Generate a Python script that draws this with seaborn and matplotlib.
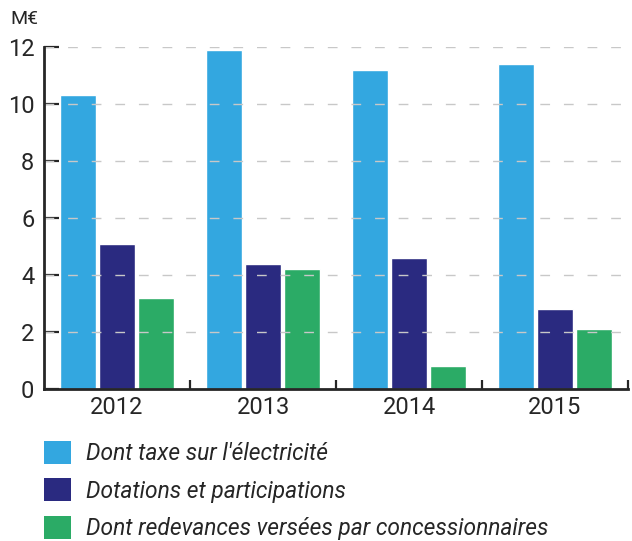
import numpy as np
import pandas as pd
import matplotlib
matplotlib.use("Agg")
import matplotlib.pyplot as plt
import seaborn as sns
from matplotlib.patches import Patch

# Data
years = ["2012", "2013", "2014", "2015"]
series = ["Dont taxe sur l'électricité",
          "Dotations et participations",
          "Dont redevances versées par concessionnaires"]
taxe = [10.3, 11.9, 11.2, 11.4]
dotations = [5.1, 4.4, 4.6, 2.8]
redevances = [3.2, 4.2, 0.8, 2.1]
colors = ["#33a7e0", "#2a2a80", "#2bab66"]

df = pd.DataFrame({
    "year": years * 3,
    "serie": [series[0]] * 4 + [series[1]] * 4 + [series[2]] * 4,
    "value": taxe + dotations + redevances,
})

sns.set_style("white")
plt.rcParams["font.family"] = ["Roboto", "DejaVu Sans"]

fig = plt.figure(figsize=(6.32, 5.41), dpi=100)
ax = fig.add_axes([44 / 632, 1 - 389 / 541, (628 - 44) / 632, (389 - 47) / 541])

sns.barplot(data=df, x="year", y="value", hue="serie", palette=colors,
            width=0.8, gap=0.08, legend=False, ax=ax, saturation=1)

ax.set_xlim(-0.5, 3.5)
ax.set_ylim(0, 12)
ax.set_yticks(range(0, 13, 2))
ax.set_xlabel("")
ax.set_ylabel("")

# dashed gridlines drawn over the bars
for y in range(2, 13, 2):
    ax.axhline(y, color="#c8c8c8", lw=1, ls=(0, (7, 10)), zorder=5)

for s in ["top", "right"]:
    ax.spines[s].set_visible(False)
ax.spines["left"].set_linewidth(2)
ax.spines["bottom"].set_linewidth(2)
ax.spines["left"].set_zorder(6)
ax.spines["bottom"].set_zorder(6)

ax.tick_params(axis="y", direction="in", length=11, width=1.6, pad=7,
               labelsize=17, left=True)
ax.tick_params(axis="x", which="major", length=0, pad=5, labelsize=17)
ax.set_xticks([0.5, 1.5, 2.5, 3.5], minor=True)
ax.tick_params(axis="x", which="minor", direction="in", length=6.5,
               width=1.6, bottom=True)

fig.text(10 / 632, 1 - 10 / 541, "M€", fontsize=14, va="top", ha="left")

handles = [Patch(facecolor=c, edgecolor="none") for c in colors]
fig.legend(handles, series, loc="upper left",
           bbox_to_anchor=(44 / 632, 1 - 441 / 541), frameon=False,
           borderpad=0, borderaxespad=0,
           prop={"size": 16.4, "style": "italic"},
           handlelength=1.18, handleheight=1.18, handletextpad=0.66,
           labelspacing=0.58)

fig.savefig("out.png", dpi=100)
